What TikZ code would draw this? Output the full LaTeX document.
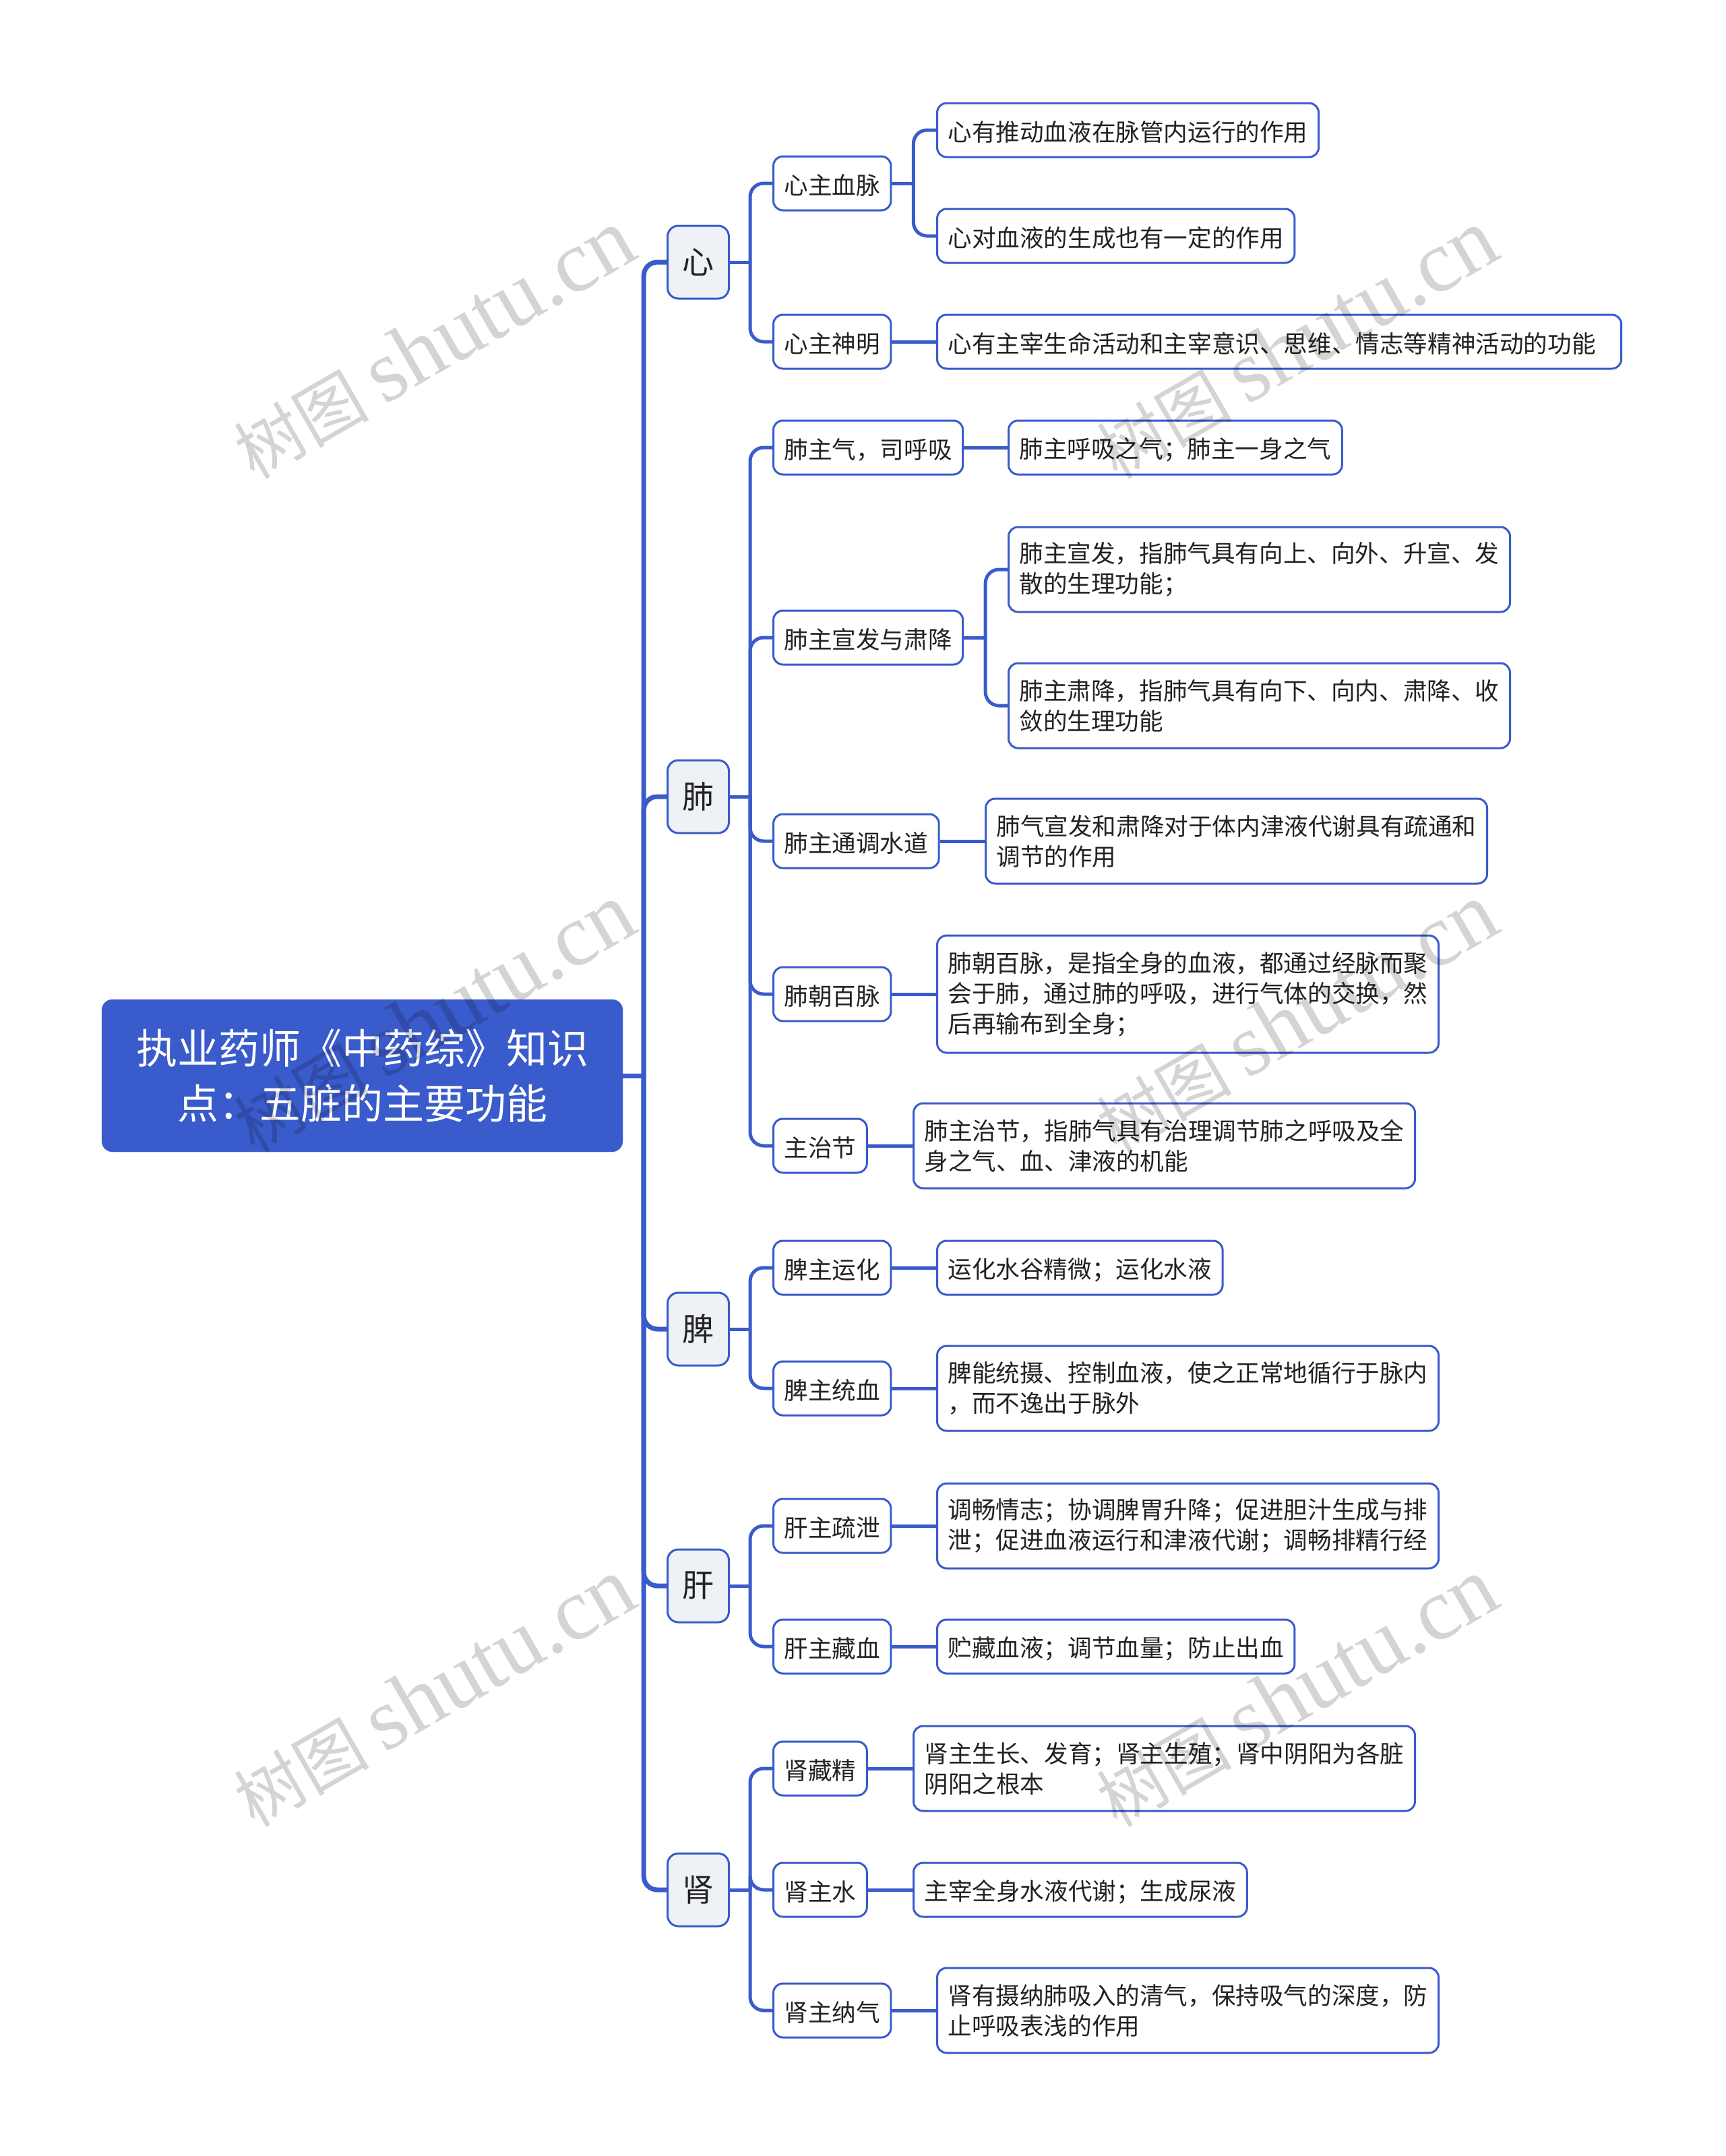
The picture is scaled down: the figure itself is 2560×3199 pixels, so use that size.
\documentclass[tikz,border=0pt]{standalone}
\usepackage{fontspec}
\setmainfont{Noto Sans CJK SC}
\newfontfamily\marklatin{Liberation Serif}
\newcommand{\cdou}{\char"FF0C\relax}
\newcommand{\cfen}{\char"FF1B\relax}
\newcommand{\cmao}{\char"FF1A\relax}
\definecolor{mapblue}{HTML}{3A5BCB}
\definecolor{palefill}{HTML}{EEF1F6}
\definecolor{inktext}{HTML}{222222}
\tikzset{
  rootbox/.style={fill=mapblue,draw=mapblue,rounded corners=16,text=white,align=center,inner sep=0,
    minimum width=773,minimum height=226,font=\fontsize{61}{82}\selectfont},
  organ/.style={fill=palefill,draw=mapblue,line width=3,rounded corners=16,text=inktext,anchor=west,inner sep=0,
    minimum width=91,minimum height=108,font=\fontsize{47}{56}\selectfont},
  duty/.style={fill=white,draw=mapblue,line width=3,rounded corners=14,text=inktext,anchor=west,inner xsep=16,inner ysep=0,
    minimum height=80,align=left,font=\fontsize{35.6}{45}\selectfont,execute at begin node={\rule{0pt}{36pt}}},
  dutytwo/.style={duty,minimum height=126,execute at begin node={\rule{0pt}{40pt}}},
  dutythree/.style={duty,minimum height=174,execute at begin node={\rule{0pt}{40pt}}},
  trunk/.style={draw=mapblue,line width=7,rounded corners=20},
  branch/.style={draw=mapblue,line width=5,rounded corners=20},
  wmark/.style={text=black,text opacity=0.17,rotate=30,inner sep=0,font=\fontsize{100}{120}\selectfont}
}
\begin{document}
\begin{tikzpicture}[x=1pt,y=-1pt]
\path[use as bounding box] (0,0) rectangle (2560,3199);

%root
\node[rootbox] (root) at (537.5,1596) {执业药师《中药综》知识\\点\cmao{}五脏的主要功能};

%organs
\node[organ] (xin) at (989,389) {心};
\node[organ] (fei) at (989,1182) {肺};
\node[organ] (pi) at (989,1972) {脾};
\node[organ] (gan) at (989,2353) {肝};
\node[organ] (shen) at (989,2804) {肾};

%xin
\node[duty] (xinxue) at (1146,272) {心主血脉};
\node[duty] (xinshen) at (1146,507) {心主神明};
\node[duty] (xinxuea) at (1389,193) {心有推动血液在脉管内运行的作用};
\node[duty] (xinxueb) at (1389,350) {心对血液的生成也有一定的作用};
\node[duty] (xinshena) at (1389,507) {心有主宰生命活动和主宰意识、思维、情志等精神活动的功能\hspace*{22pt}};

%fei
\node[duty] (feiqi) at (1146,664) {肺主气\cdou{}司呼吸};
\node[duty] (feixuan) at (1146,946) {肺主宣发与肃降};
\node[duty] (feitong) at (1146,1248) {肺主通调水道};
\node[duty] (feichao) at (1146,1475) {肺朝百脉};
\node[duty] (feizhi) at (1146,1700) {主治节};
\node[duty] (feiqia) at (1495,664) {肺主呼吸之气\cfen{}肺主一身之气};
\node[dutytwo] (feixuana) at (1495,845) {肺主宣发\cdou{}指肺气具有向上、向外、升宣、发\\散的生理功能\cfen};
\node[dutytwo] (feixuanb) at (1495,1047) {肺主肃降\cdou{}指肺气具有向下、向内、肃降、收\\敛的生理功能};
\node[dutytwo] (feitonga) at (1461,1248) {肺气宣发和肃降对于体内津液代谢具有疏通和\\调节的作用};
\node[dutythree] (feichaoa) at (1389,1475) {肺朝百脉\cdou{}是指全身的血液\cdou{}都通过经脉而聚\\会于肺\cdou{}通过肺的呼吸\cdou{}进行气体的交换\cdou{}然\\后再输布到全身\cfen};
\node[dutytwo] (feizhia) at (1354,1700) {肺主治节\cdou{}指肺气具有治理调节肺之呼吸及全\\身之气、血、津液的机能};

%pi
\node[duty] (piyun) at (1146,1881) {脾主运化};
\node[duty] (pitong) at (1146,2060) {脾主统血};
\node[duty] (piyuna) at (1389,1881) {运化水谷精微\cfen{}运化水液};
\node[dutytwo] (pitonga) at (1389,2060) {脾能统摄、控制血液\cdou{}使之正常地循行于脉内\\\cdou{}而不逸出于脉外};

%gan
\node[duty] (ganshu) at (1146,2264) {肝主疏泄};
\node[duty] (gancang) at (1146,2443) {肝主藏血};
\node[dutytwo] (ganshua) at (1389,2264) {调畅情志\cfen{}协调脾胃升降\cfen{}促进胆汁生成与排\\泄\cfen{}促进血液运行和津液代谢\cfen{}调畅排精行经};
\node[duty] (gancanga) at (1389,2443) {贮藏血液\cfen{}调节血量\cfen{}防止出血};

%shen
\node[duty] (shenjing) at (1146,2624) {肾藏精};
\node[duty] (shenshui) at (1146,2804) {肾主水};
\node[duty] (shenna) at (1146,2983) {肾主纳气};
\node[dutytwo] (shenjinga) at (1354,2624) {肾主生长、发育\cfen{}肾主生殖\cfen{}肾中阴阳为各脏\\阴阳之根本};
\node[duty] (shenshuia) at (1354,2804) {主宰全身水液代谢\cfen{}生成尿液};
\node[dutytwo] (shennaa) at (1389,2983) {肾有摄纳肺吸入的清气\cdou{}保持吸气的深度\cdou{}防\\止呼吸表浅的作用};

%connectors
\coordinate (rootstem) at ([xshift=31]root.east);
\draw[trunk] (root.east) -- (rootstem);
\foreach \organ in {xin,fei,pi,gan,shen}
  \draw[trunk] (rootstem) |- (\organ.west);

\foreach \organ/\kids in {xin/{xinxue,xinshen},fei/{feiqi,feixuan,feitong,feichao,feizhi},pi/{piyun,pitong},gan/{ganshu,gancang},shen/{shenjing,shenshui,shenna}}{
  \coordinate (\organ stem) at ([xshift=30]\organ.east);
  \draw[branch] (\organ.east) -- (\organ stem);
  \foreach \kid in \kids
    \draw[branch] (\organ stem) |- (\kid.west);
}

\foreach \kid/\leaf in {xinshen/xinshena,feiqi/feiqia,feitong/feitonga,feichao/feichaoa,feizhi/feizhia,piyun/piyuna,pitong/pitonga,ganshu/ganshua,gancang/gancanga,shenjing/shenjinga,shenshui/shenshuia,shenna/shennaa}
  \draw[branch] (\kid.east) -- (\leaf.west);

\coordinate (xinxuestem) at ([xshift=32]xinxue.east);
\draw[branch] (xinxue.east) -- (xinxuestem);
\foreach \leaf in {xinxuea,xinxueb}
  \draw[branch] (xinxuestem) |- (\leaf.west);

\coordinate (feixuanstem) at ([xshift=32]feixuan.east);
\draw[branch] (feixuan.east) -- (feixuanstem);
\foreach \leaf in {feixuana,feixuanb}
  \draw[branch] (feixuanstem) |- (\leaf.west);

%watermark
\foreach \mx in {644,1924}
  \foreach \my in {511,1511,2511}
    \node[wmark] (mark\mx\my) at (\mx,\my) {树图 {\marklatin\fontsize{131}{131}\selectfont shutu.cn}};
\end{tikzpicture}
\end{document}
